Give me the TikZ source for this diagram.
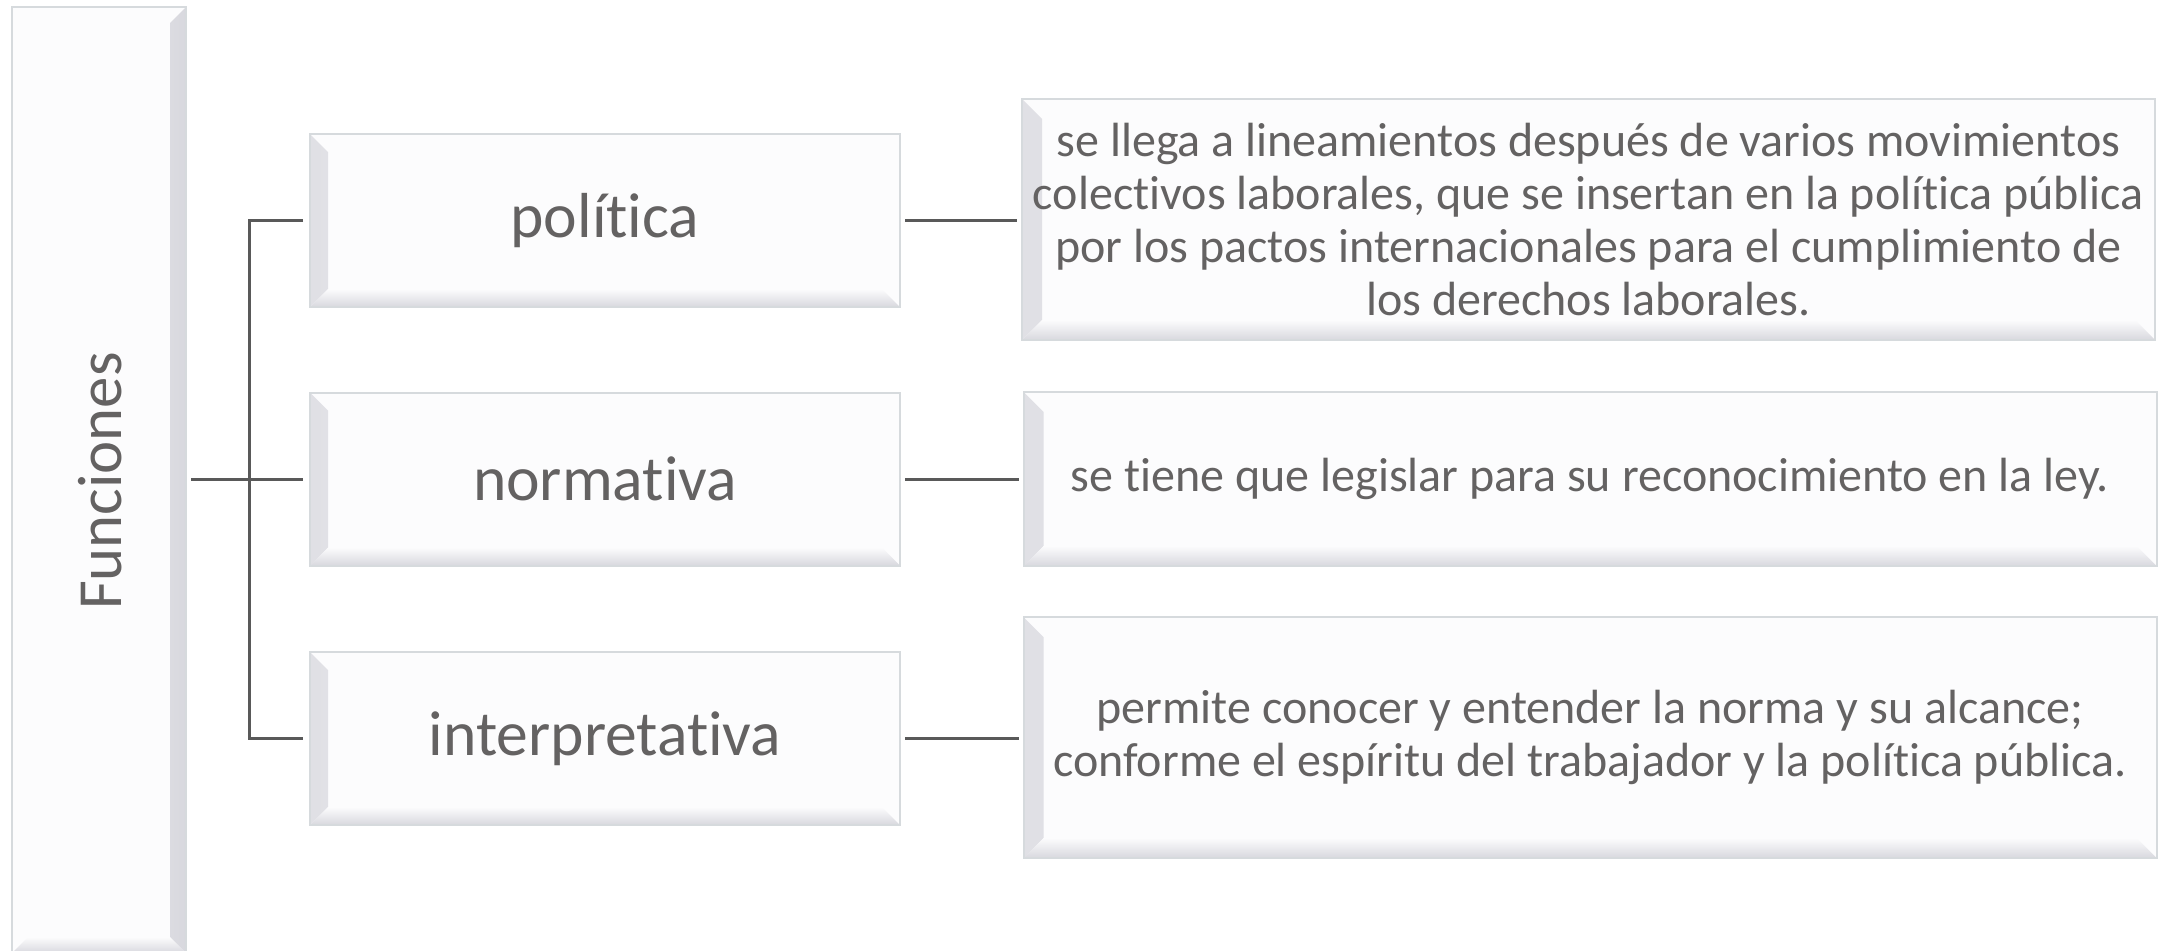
\documentclass[tikz,border=0pt]{standalone}
\usepackage{fontspec}
\setmainfont{Carlito}[RawFeature={-liga;-dlig;-clig;-calt}]
\definecolor{txtc}{HTML}{646262}
\definecolor{linec}{HTML}{595959}
\definecolor{bordc}{HTML}{D6DADD}
\definecolor{boxfill}{HTML}{FCFCFD}
\definecolor{bevdark}{HTML}{D8D8DE}
\definecolor{bevside}{HTML}{E0E0E5}
\newcommand\bevbottom[1]{\shade[top color=boxfill, bottom color=bevdark]
  (path picture bounding box.south west) -- (path picture bounding box.south east)
  -- ([shift={(-#1,-#1)}]path picture bounding box.south east)
  -- ([shift={(#1,-#1)}]path picture bounding box.south west) -- cycle;}
\newcommand\bevleft[1]{\shade[left color=bevside, right color=boxfill]
  (path picture bounding box.north west) -- ([shift={(#1,#1)}]path picture bounding box.north west)
  -- ([shift={(#1,-#1)}]path picture bounding box.south west)
  -- (path picture bounding box.south west) -- cycle;}
\newcommand\bevright[1]{\shade[left color=boxfill, right color=bevdark]
  (path picture bounding box.north east) -- ([shift={(-#1,#1)}]path picture bounding box.north east)
  -- ([shift={(-#1,-#1)}]path picture bounding box.south east)
  -- (path picture bounding box.south east) -- cycle;}
\tikzset{
  bx/.style={draw=bordc, line width=1pt, fill=boxfill, text=txtc, inner sep=0pt, align=center},
  midbox/.style={bx, minimum width=295pt, minimum height=86.5pt, font=\fontsize{31.8}{37}\selectfont,
    path picture={\bevleft{18}\bevbottom{18}}},
  rbox/.style={bx, minimum width=566.5pt, font=\fontsize{24}{26.5}\selectfont,
    path picture={\bevleft{20}\bevbottom{20}}},
  conn/.style={draw=linec, line width=1.5pt},
}
\begin{document}
\begin{tikzpicture}[x=0.5pt,y=-0.5pt]
\useasboundingbox (0,0) rectangle (2166,950);
\clip (0,0) rectangle (2166,950);
% left column box
\node[bx, minimum width=87pt, minimum height=473pt, path picture={\bevright{16}\bevbottom{16}}] (F) at (99,480) {};
\node[text=txtc, rotate=90, font=\fontsize{31.4}{37}\selectfont] (Ft) at (100,481) {Funciones};
% middle boxes
\node[midbox] (p) at (605,220.5) {política};
\node[midbox] (n) at (605,479) {normativa};
\node[midbox] (i) at (605,738.5) {interpretativa};
% right boxes
\node[rbox, minimum height=120.5pt] (r1) at (1588.5,219.5) {se llega a lineamientos después de varios movimientos\\colectivos laborales, que se insertan en la política pública\\por los pactos internacionales para el cumplimiento de\\los derechos laborales.};
\node[rbox, minimum height=87pt] (r2) at (1590,479) {se tiene que legislar para su reconocimiento en la ley.};
\node[rbox, minimum height=120.5pt] (r3) at (1590,737.5) {permite conocer y entender la norma y su alcance;\\conforme el espíritu del trabajador y la política pública.};
% connectors
\draw[conn] ([xshift=2pt]F.east |- n.west) -- ([xshift=-3pt]n.west);
\draw[conn] ([xshift=-3pt]p.west) -- ([xshift=-30pt]p.west) -- ([xshift=-30pt]i.west) -- ([xshift=-3pt]i.west);
\draw[conn] ([xshift=2pt]p.east) -- ([xshift=-2pt]p.east -| r1.west);
\draw[conn] ([xshift=2pt]n.east) -- ([xshift=-2pt]n.east -| r2.west);
\draw[conn] ([xshift=2pt]i.east) -- ([xshift=-2pt]i.east -| r3.west);
\end{tikzpicture}
\end{document}
